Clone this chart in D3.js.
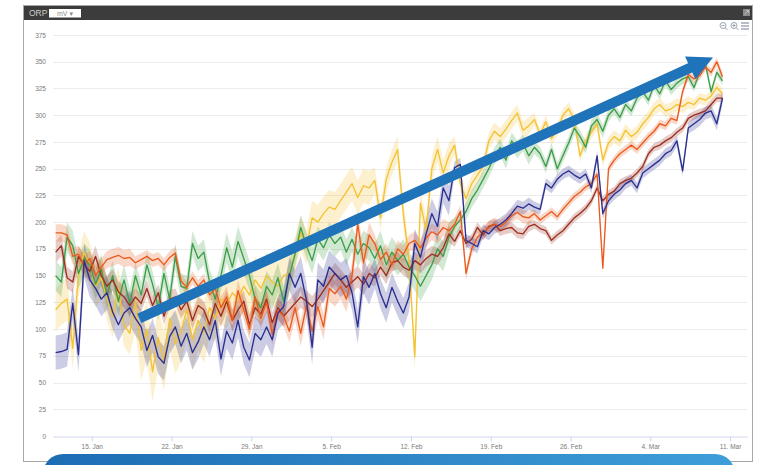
<!DOCTYPE html>
<html>
<head>
<meta charset="utf-8">
<script src="https://cdn.jsdelivr.net/npm/d3@7/dist/d3.min.js"></script>
<style>
  html, body { margin: 0; padding: 0; background: #fff; }
  svg { display: block; font-family: "Liberation Sans", "DejaVu Sans", sans-serif; }
</style>
</head>
<body>
<svg id="chart" width="759" height="465"></svg>
<script>
// ORP readings (mV), one sample every 12 hours starting 11 Jan 20:00
const startTime = Date.UTC(2024, 0, 11, 20);
const stepHours = 12;

const orpOrange = [
  190,190,188,168,170,160,166,150,158,165,
  167,169,166,167,162,165,168,164,166,160,
  167,171,145,139,148,140,146,132,138,120,
  130,108,136,118,100,130,110,125,95,118,
  112,98,120,96,122,98,121,102,138,133,
  140,128,150,198,162,188,180,165,172,160,
  175,170,180,183,176,185,191,188,195,192,
  198,210,152,175,186,190,195,198,196,200,
  206,209,205,204,208,202,206,210,205,212,
  218,224,228,233,236,245,157,250,258,264,
  268,272,268,274,280,285,292,290,297,295,
  322,338,334,337,345,340,350,336
];
const orpGreen = [
  150,144,186,178,152,166,160,142,156,132,
  150,126,146,124,150,132,160,142,120,152,
  128,168,140,138,180,166,172,144,128,150,
  176,158,182,166,150,128,120,140,132,148,
  126,150,170,195,178,164,184,176,188,180,
  186,172,184,170,180,176,166,178,160,172,
  164,170,158,150,140,150,160,175,168,186,
  196,202,210,222,230,240,250,262,270,258,
  276,268,274,262,270,264,252,268,250,262,
  274,288,280,270,290,296,285,300,306,298,
  310,304,316,322,314,328,320,332,324,330,
  334,336,326,340,348,322,340,332
];
const orpYellow = [
  118,124,128,82,150,172,160,140,148,128,
  112,138,104,96,126,80,100,60,92,70,
  110,86,98,118,90,108,96,120,110,128,
  122,134,128,140,132,146,138,150,144,140,
  150,152,170,190,176,204,200,208,214,212,
  220,228,236,223,234,232,239,204,240,256,
  268,208,164,74,218,192,250,268,246,262,
  272,236,222,236,244,252,276,285,280,287,
  295,302,286,290,296,282,294,278,286,300,
  306,296,262,276,284,292,258,274,280,276,
  286,280,284,292,298,306,310,304,306,310,
  308,312,310,316,314,318,326,320
];
const orpNavy = [
  78,79,81,124,76,164,146,138,128,134,
  116,104,115,120,110,102,80,94,74,68,
  93,102,84,96,78,88,102,90,108,72,
  98,87,108,83,71,96,90,102,90,115,
  121,152,139,152,127,83,146,140,158,152,
  146,150,134,102,149,139,152,133,120,139,
  126,115,130,180,167,189,208,196,232,220,
  251,254,183,180,177,192,189,195,198,202,
  208,215,213,217,214,212,236,232,240,245,
  248,244,241,245,232,262,208,220,226,230,
  236,239,232,246,250,254,258,264,267,276,
  248,288,292,296,302,304,292,316
];
const orpMaroon = [
  172,178,148,144,168,160,154,168,150,140,
  146,135,130,122,130,124,138,122,134,112,
  128,130,118,126,108,122,118,104,124,112,
  126,108,118,126,104,120,114,128,106,120,
  112,118,124,130,126,121,128,136,144,152,
  146,139,144,149,142,152,148,158,150,162,
  164,158,155,164,160,166,170,168,176,189,
  182,192,180,184,195,188,196,198,192,194,
  195,190,189,196,198,194,192,183,188,192,
  198,204,208,213,220,232,220,226,229,236,
  239,241,246,252,264,270,272,276,279,284,
  288,297,300,302,304,310,316,316
];

// Half-width of the min/max envelope, one value per week of samples
const spreadOrange = [8, 6, 10, 12, 8, 6, 4, 4, 4];
const spreadGreen  = [14, 12, 14, 12, 14, 8, 6, 5, 4];
const spreadYellow = [20, 28, 22, 16, 12, 8, 6, 6, 5];
const spreadNavy   = [16, 16, 16, 16, 14, 6, 5, 5, 6];
const spreadMaroon = [10, 8, 10, 10, 8, 5, 4, 4, 4];

const yTickValues = [0, 25, 50, 75, 100, 125, 150, 175, 200, 225, 250, 275, 300, 325, 350, 375];

// Trend arrow endpoints: [time, mV]
const trendFrom = [Date.UTC(2024, 0, 19, 4), 110];
const trendTo   = [Date.UTC(2024, 2, 9, 12), 354];

const series = [
  { values: orpYellow, spread: spreadYellow, color: "#f4c232" },
  { values: orpGreen,  spread: spreadGreen,  color: "#3e9d49" },
  { values: orpMaroon, spread: spreadMaroon, color: "#9c2f1f" },
  { values: orpOrange, spread: spreadOrange, color: "#eb5a1d" },
  { values: orpNavy,   spread: spreadNavy,   color: "#2b2f8f" }
];

const svg = d3.select("#chart");

// Panel frame and header bar
svg.append("rect").attr("x", 23.5).attr("y", 5.5).attr("width", 729).attr("height", 456)
  .attr("fill", "#fff").attr("stroke", "#a8a8a8").attr("stroke-width", 1);
svg.append("rect").attr("x", 24).attr("y", 6).attr("width", 728).attr("height", 14).attr("fill", "#3c3c3c");
svg.append("text").attr("x", 29).attr("y", 16.3).attr("font-size", 8.5).attr("fill", "#cfcfcf").text("ORP");
svg.append("rect").attr("x", 49).attr("y", 9).attr("width", 32).attr("height", 8.5).attr("fill", "#fff");
svg.append("text").attr("x", 57).attr("y", 16).attr("font-size", 7).attr("fill", "#8a8a8a").text("mV \u25BE");
// expand icon at the bar's right end
svg.append("rect").attr("x", 743).attr("y", 9).attr("width", 7).attr("height", 7).attr("fill", "#8c8c8c");
svg.append("path").attr("d", "M744.5,14.5 L748.5,10.5 M746,10.5 h2.5 v2.5").attr("stroke", "#c8c8c8").attr("stroke-width", 0.8).attr("fill", "none");

// Toolbar icons: zoom out, zoom in, menu
const tool = svg.append("g").attr("stroke", "#98a4b3").attr("fill", "none").attr("stroke-width", 1);
[[723, false], [734, true]].forEach(([cx, plus]) => {
  tool.append("circle").attr("cx", cx).attr("cy", 25.5).attr("r", 3);
  tool.append("line").attr("x1", cx + 2.2).attr("y1", 27.7).attr("x2", cx + 4.5).attr("y2", 30);
  tool.append("line").attr("x1", cx - 1.6).attr("y1", 25.5).attr("x2", cx + 1.6).attr("y2", 25.5);
  if (plus) tool.append("line").attr("x1", cx).attr("y1", 23.9).attr("x2", cx).attr("y2", 27.1);
});
[23, 26, 29].forEach(yy => tool.append("line").attr("x1", 741).attr("x2", 749).attr("y1", yy).attr("y2", yy).attr("stroke-width", 1.4));

// Scales
const x = d3.scaleUtc()
  .domain([Date.UTC(2024, 0, 11, 14, 24), Date.UTC(2024, 2, 12, 12)])
  .range([53, 747.2]);
const y = d3.scaleLinear().domain([0, 375]).range([436, 35]);

const timeAt = i => new Date(startTime + i * stepHours * 3600 * 1000);

// Gridlines
const grid = svg.append("g");
grid.selectAll("line").data(yTickValues.filter(v => v > 0)).join("line")
  .attr("x1", 53).attr("x2", 747.2)
  .attr("y1", d => Math.round(y(d)) + 0.5).attr("y2", d => Math.round(y(d)) + 0.5)
  .attr("stroke", "#ececec").attr("stroke-width", 1);

// Y axis labels
const yAxis = svg.append("g").attr("transform", "translate(47,0)")
  .call(d3.axisLeft(y).tickValues(yTickValues).tickSize(0).tickPadding(1));
yAxis.select(".domain").remove();
yAxis.selectAll("text").attr("font-size", 6.5).attr("fill", "#7a7a7a")
  .attr("font-family", "Liberation Sans, sans-serif");

// X axis
const xAxis = svg.append("g").attr("transform", "translate(0,436.5)")
  .call(d3.axisBottom(x).ticks(d3.utcMonday.every(1)).tickFormat(d3.utcFormat("%-d. %b"))
    .tickSizeInner(5).tickSizeOuter(0).tickPadding(3));
xAxis.select(".domain").attr("stroke", "#ccd6eb");
xAxis.selectAll(".tick line").attr("stroke", "#ccd6eb");
xAxis.selectAll("text").attr("font-size", 6.5).attr("fill", "#7a7a7a")
  .attr("font-family", "Liberation Sans, sans-serif");

// Envelope bands
const area = d3.area()
  .x((d, i) => x(timeAt(i)))
  .y0(d => y(d.v - d.s))
  .y1(d => y(d.v + d.s));
const plot = svg.append("g");
series.forEach(s => {
  const pts = s.values.map((v, i) => ({ v, s: s.spread[Math.min(s.spread.length - 1, Math.floor(i / 14))] }));
  plot.append("path").datum(pts).attr("d", area)
    .attr("fill", s.color).attr("fill-opacity", 0.24).attr("stroke", "none");
});

// Lines
const line = d3.line().x((d, i) => x(timeAt(i))).y(d => y(d));
series.forEach(s => {
  plot.append("path").datum(s.values).attr("d", line)
    .attr("fill", "none").attr("stroke", s.color).attr("stroke-width", 1.35)
    .attr("stroke-linejoin", "round");
});

// Trend arrow
const p0 = [x(new Date(trendFrom[0])), y(trendFrom[1])];
const p1 = [x(new Date(trendTo[0])), y(trendTo[1])];
const dx = p1[0] - p0[0], dy = p1[1] - p0[1];
const len = Math.hypot(dx, dy);
const ux = dx / len, uy = dy / len, px = -uy, py = ux;
const headLen = 25, headHalf = 12.5;
const base = [p1[0] - ux * headLen, p1[1] - uy * headLen];
svg.append("line")
  .attr("x1", p0[0]).attr("y1", p0[1]).attr("x2", base[0] + ux).attr("y2", base[1] + uy)
  .attr("stroke", "#1f73b9").attr("stroke-width", 10);
svg.append("path")
  .attr("d", `M${p1[0]},${p1[1]} L${base[0] + px * headHalf},${base[1] + py * headHalf} L${base[0] - px * headHalf},${base[1] - py * headHalf} Z`)
  .attr("fill", "#1f73b9");

// Blue caption box at the bottom
const defs = svg.append("defs");
const grad = defs.append("linearGradient").attr("id", "boxGrad").attr("x1", "0%").attr("x2", "100%");
grad.append("stop").attr("offset", "0%").attr("stop-color", "#1c6cb3");
grad.append("stop").attr("offset", "100%").attr("stop-color", "#3f9ed9");
svg.append("rect").attr("x", 43).attr("y", 454).attr("width", 692).attr("height", 40).attr("rx", 20)
  .attr("fill", "url(#boxGrad)");
</script>
</body>
</html>
